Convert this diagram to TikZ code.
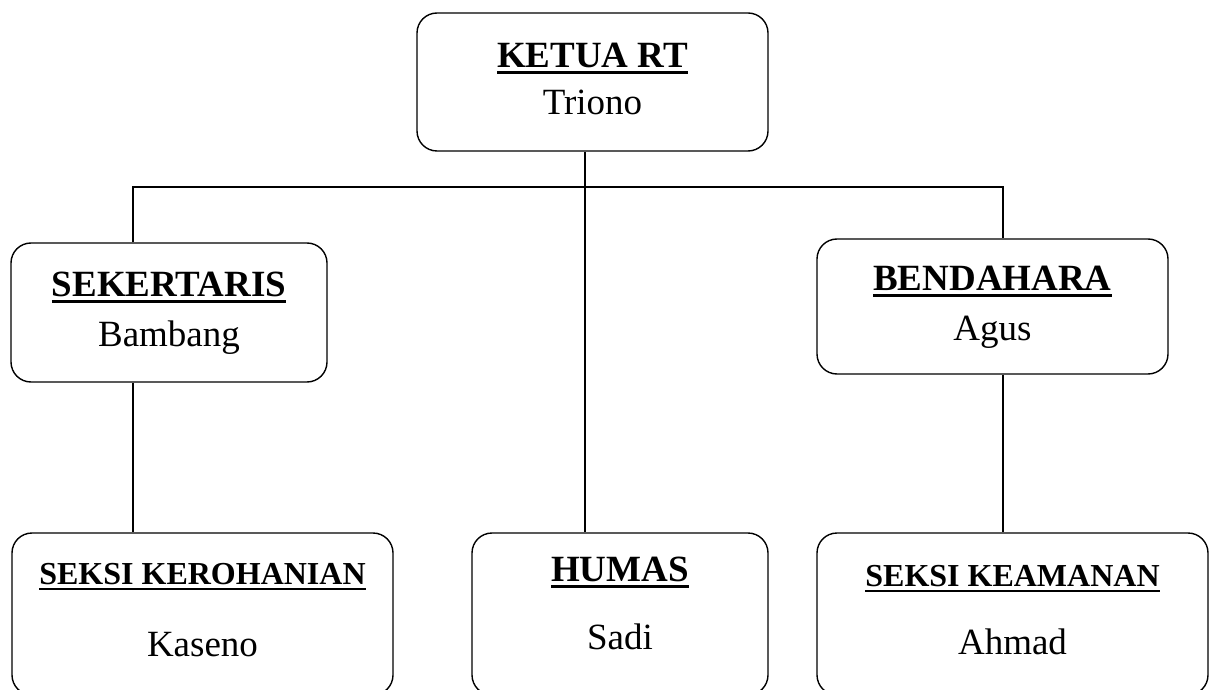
\documentclass[tikz,border=0pt]{standalone}
\usepackage{fontspec}
\setmainfont{Liberation Serif}
\usetikzlibrary{positioning}
\newcommand{\headul}[1]{\setbox0\hbox{\bfseries #1}\rlap{\rule[-0.18em]{\wd0}{0.07em}}\box0}
\newcommand{\smallhead}{\fontsize{32}{38}\selectfont}
\tikzset{
  orgbox/.style={draw, rounded corners=20pt, line width=1.4pt, align=center, inner sep=0pt, font=\fontsize{37}{44}\selectfont},
  link/.style={line width=1.2pt}
}
\begin{document}
\begin{tikzpicture}[x=1pt, y=1pt]
  \useasboundingbox (0,0) rectangle (1214,689);
  \clip (0,0) rectangle (1214,689);
  \node[orgbox, minimum width=351pt, minimum height=138pt] (ketua) at (592.5,607) {\headul{KETUA RT}\strut\\[3pt]Triono\strut};
  \node[orgbox, minimum width=316pt, minimum height=139pt] (sekretaris) at (169,376.5) {\headul{SEKERTARIS}\strut\\[6pt]Bambang\strut};
  \node[orgbox, minimum width=351pt, minimum height=135pt] (bendahara) at (992.5,382.5) {\headul{BENDAHARA}\strut\\[6pt]Agus\strut};
  \node[orgbox, minimum width=381pt, minimum height=162pt] (kerohanian) at (202.5,75) {{\smallhead\headul{SEKSI KEROHANIAN}\strut}\\[28pt]Kaseno\strut};
  \node[orgbox, minimum width=296pt, minimum height=162pt] (humas) at (620,75) {{\smallhead\strut}\headul{HUMAS}\\[24pt]Sadi\rule[-24pt]{0pt}{1pt}};
  \node[orgbox, minimum width=391pt, minimum height=162pt] (keamanan) at (1012.5,75) {{\smallhead\headul{SEKSI KEAMANAN}\strut}\\[24pt]Ahmad\strut};
  % garis penghubung
  \coordinate (busL) at (133,502);
  \coordinate (busM) at (585,502);
  \coordinate (busR) at (1003,502);
  \draw[link] (ketua.south -| busM) -- (humas.north -| busM);
  \draw[link] (sekretaris.north -| busL) -- (busL) -- (busR) -- (bendahara.north -| busR);
  \draw[link] (sekretaris.south -| busL) -- (kerohanian.north -| busL);
  \draw[link] (bendahara.south -| busR) -- (keamanan.north -| busR);
\end{tikzpicture}
\end{document}
